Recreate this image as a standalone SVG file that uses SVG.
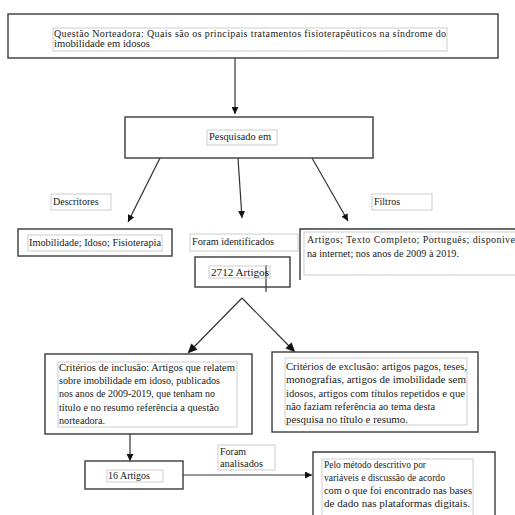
<svg xmlns="http://www.w3.org/2000/svg" width="515" height="515" viewBox="0 0 515 515">
<defs>
<marker id="ah" viewBox="0 0 10 10" refX="10" refY="5" markerWidth="7" markerHeight="7" markerUnits="userSpaceOnUse" orient="auto">
<path d="M0,0 L10,5 L0,10 z" fill="#111"/>
</marker>
<style>
.outer{fill:none;stroke:#3a3a3a;stroke-width:1.4}
.inner{fill:none;stroke:#c8c8c8;stroke-width:0.9}
.t{font-family:'Liberation Serif','Times New Roman','DejaVu Serif',serif;font-size:10px;fill:#1a1a1a}
.c{fill:none;stroke:#333;stroke-width:1.2}
.a{marker-end:url(#ah)}
.head{fill:#111;stroke:#111;stroke-width:0.5}
</style>
</defs>
<rect width="515" height="515" fill="#fff"/>

<g id="connectors">
<line class="c a" x1="235" y1="58" x2="235" y2="114"/>
<line class="c a" x1="160" y1="158" x2="128" y2="222"/>
<line class="c a" x1="238" y1="158" x2="242" y2="218"/>
<line class="c a" x1="312" y1="158" x2="348" y2="221"/>
<line class="c" x1="266" y1="265" x2="266" y2="292"/>
<path class="c" d="M242,298 L193,348"/>
<path class="c" d="M242,298 L290,347"/>
<polygon class="head" points="188,353 197.1,349.4 191.5,343.8"/>
<polygon class="head" points="295,352 291.4,342.7 285.8,348.3"/>
<line class="c a" x1="130" y1="434" x2="130" y2="461"/>
<line class="c a" x1="183" y1="475" x2="312" y2="475"/>
</g>

<g font-family="Liberation Serif, Times New Roman, serif">
<g id="n-questao">
<rect class="outer" x="8" y="14" width="490" height="44"/>
<rect class="inner" x="53" y="28" width="394" height="23"/>
<text class="t" x="54" y="37" textLength="392" lengthAdjust="spacing">Questão Norteadora: Quais são os principais tratamentos fisioterapêuticos na síndrome do</text>
<text class="t" x="54" y="47" textLength="96" lengthAdjust="spacingAndGlyphs">imobilidade em idosos</text>
</g>

<g id="n-pesquisado">
<rect class="outer" x="125" y="117" width="248" height="41"/>
<rect class="inner" x="207" y="130" width="70" height="15"/>
<text class="t" x="209" y="140" textLength="62" lengthAdjust="spacingAndGlyphs">Pesquisado em</text>
</g>

<g id="n-descritores">
<rect class="inner" x="51" y="194" width="60" height="16"/>
<text class="t" x="53" y="205">Descritores</text>
</g>

<g id="n-filtros">
<rect class="inner" x="372" y="194" width="60" height="16"/>
<text class="t" x="374" y="205">Filtros</text>
</g>

<g id="n-imobilidade">
<rect class="outer" x="18" y="229" width="154" height="27"/>
<rect class="inner" x="28" y="235" width="134" height="16"/>
<text class="t" x="29" y="246" textLength="132" lengthAdjust="spacingAndGlyphs">Imobilidade; Idoso; Fisioterapia</text>
</g>

<g id="n-foram-identificados">
<rect class="inner" x="190" y="234" width="108" height="17"/>
<text class="t" x="192" y="245" textLength="82" lengthAdjust="spacingAndGlyphs">Foram identificados</text>
</g>

<g id="n-2712">
<rect class="outer" x="195" y="257" width="95" height="30"/>
<rect class="inner" x="209" y="266" width="61" height="12"/>
<text class="t" x="211" y="276" textLength="58" lengthAdjust="spacingAndGlyphs">2712 Artigos</text>
</g>

<g id="n-filtros-lista">
<path class="outer" d="M300,280 V229 H516"/>
<rect class="inner" x="304" y="232" width="215" height="43"/>
<text class="t" x="307" y="243" textLength="208" lengthAdjust="spacing">Artigos; Texto Completo; Português; disponive</text>
<text class="t" x="307" y="257" textLength="152" lengthAdjust="spacingAndGlyphs">na internet; nos anos de 2009 à 2019.</text>
</g>

<g id="n-inclusao">
<rect class="outer" x="45" y="354" width="207" height="80"/>
<rect class="inner" x="58" y="362" width="179" height="65"/>
<text class="t" x="59" y="371" textLength="176" lengthAdjust="spacingAndGlyphs">Critérios de inclusão: Artigos que relatem</text>
<text class="t" x="59" y="384" textLength="161" lengthAdjust="spacingAndGlyphs">sobre imobilidade em idoso, publicados</text>
<text class="t" x="59" y="397" textLength="156" lengthAdjust="spacingAndGlyphs">nos anos de 2009-2019, que tenham no</text>
<text class="t" x="59" y="411" textLength="160" lengthAdjust="spacingAndGlyphs">título e no resumo referência a questão</text>
<text class="t" x="59" y="424" textLength="46" lengthAdjust="spacingAndGlyphs">norteadora.</text>
</g>

<g id="n-exclusao">
<rect class="outer" x="272" y="352" width="206" height="80"/>
<rect class="inner" x="285" y="358" width="182" height="67"/>
<text class="t" x="286" y="370" textLength="181" lengthAdjust="spacingAndGlyphs">Critérios de exclusão: artigos pagos, teses,</text>
<text class="t" x="286" y="383" textLength="180" lengthAdjust="spacingAndGlyphs">monografias, artigos de imobilidade sem</text>
<text class="t" x="286" y="397" textLength="179" lengthAdjust="spacingAndGlyphs">idosos, artigos com títulos repetidos e que</text>
<text class="t" x="286" y="410" textLength="149" lengthAdjust="spacingAndGlyphs">não faziam referência ao tema desta</text>
<text class="t" x="286" y="423" textLength="122" lengthAdjust="spacingAndGlyphs">pesquisa no título e resumo.</text>
</g>

<g id="n-16">
<rect class="outer" x="85" y="461" width="98" height="28"/>
<rect class="inner" x="107" y="470" width="56" height="12"/>
<text class="t" x="108" y="479" textLength="42" lengthAdjust="spacingAndGlyphs">16 Artigos</text>
</g>

<g id="n-foram-analisados">
<rect class="inner" x="218" y="445" width="57" height="25"/>
<text class="t" x="220" y="455">Foram</text>
<text class="t" x="220" y="467" textLength="43" lengthAdjust="spacingAndGlyphs">analisados</text>
</g>

<g id="n-pelo">
<path class="outer" d="M313,516 V452 H495 V516"/>
<rect class="inner" x="322" y="459" width="151" height="60"/>
<text class="t" x="324" y="468" textLength="102" lengthAdjust="spacingAndGlyphs">Pelo método descritivo por</text>
<text class="t" x="324" y="481" textLength="121" lengthAdjust="spacingAndGlyphs">variáveis e discussão de acordo</text>
<text class="t" x="324" y="494" textLength="148" lengthAdjust="spacingAndGlyphs">com o que foi encontrado nas bases</text>
<text class="t" x="324" y="507" textLength="146" lengthAdjust="spacingAndGlyphs">de dado nas plataformas digitais.</text>
</g>
</g>
</svg>
